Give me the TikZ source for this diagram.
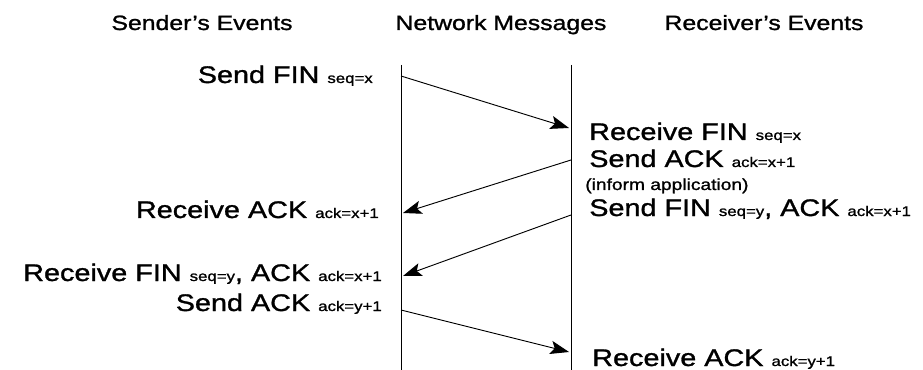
\documentclass[tikz,border=0pt]{standalone}
\usepackage{fontspec}
\setmainfont[FakeStretch=1.2,FakeBold=1.2]{Liberation Sans}
\usetikzlibrary{arrows.meta}

\newcommand{\sm}[1]{{\fontsize{10.5}{12}\selectfont #1}}

\tikzset{
  msg/.style={draw, line width=0.7pt, -{Stealth[length=14pt,width=10pt,inset=3pt]}},
  head/.style={anchor=base, inner sep=0pt, font=\fontsize{15.5}{18}\selectfont},
  evleft/.style={anchor=base east, inner sep=0pt, font=\fontsize{18}{20}\selectfont},
  evright/.style={anchor=base west, inner sep=0pt, font=\fontsize{18}{20}\selectfont}
}

\begin{document}
\begin{tikzpicture}[x=0.75pt,y=-0.75pt]
        \useasboundingbox (0,0) rectangle (923,370);

        % time lines
        \coordinate (L0) at (401,65);
        \coordinate (L1) at (401,370);
        \coordinate (R0) at (571,65);
        \coordinate (R1) at (571,370);
        \draw[line width=0.7pt] (L0) -- (L1);
        \draw[line width=0.7pt] (R0) -- (R1);

        % message end points
        \coordinate (A) at (401,76);
        \coordinate (B) at (569,128);
        \coordinate (C) at (571,160);
        \coordinate (D) at (403,213);
        \coordinate (E) at (571,215);
        \coordinate (F) at (403,276);
        \coordinate (G) at (401,310);
        \coordinate (H) at (569,352);

        \draw[msg] (A) -- (B);
        \draw[msg] (C) -- (D);
        \draw[msg] (E) -- (F);
        \draw[msg] (G) -- (H);

        \node[head] (hs) at (202,30) {Sender’s Events};
        \node[head] (hn) at (501,30) {Network Messages};
        \node[head] (hr) at (764,30) {Receiver’s Events};

        \node[evleft] (s1) at (373,83) {Send FIN \sm{seq=x}};
        \node[evright] (r1) at (589,140) {Receive FIN \sm{seq=x}};
        \node[evright] (r2) at (589,167) {Send ACK \sm{ack=x+1}};
        \node[anchor=base west, inner sep=0pt, font=\fontsize{12}{14}\selectfont] (r3) at (585,190) {(inform application)};
        \node[evright] (r4) at (589,216) {Send FIN \sm{seq=y}, ACK \sm{ack=x+1}};
        \node[evleft] (s2) at (379,218) {Receive ACK \sm{ack=x+1}};
        \node[evleft] (s3) at (382,281) {Receive FIN \sm{seq=y}, ACK \sm{ack=x+1}};
        \node[evleft] (s4) at (382,311) {Send ACK \sm{ack=y+1}};
        \node[evright] (r5) at (592,366) {Receive ACK \sm{ack=y+1}};
    \end{tikzpicture}
\end{document}
